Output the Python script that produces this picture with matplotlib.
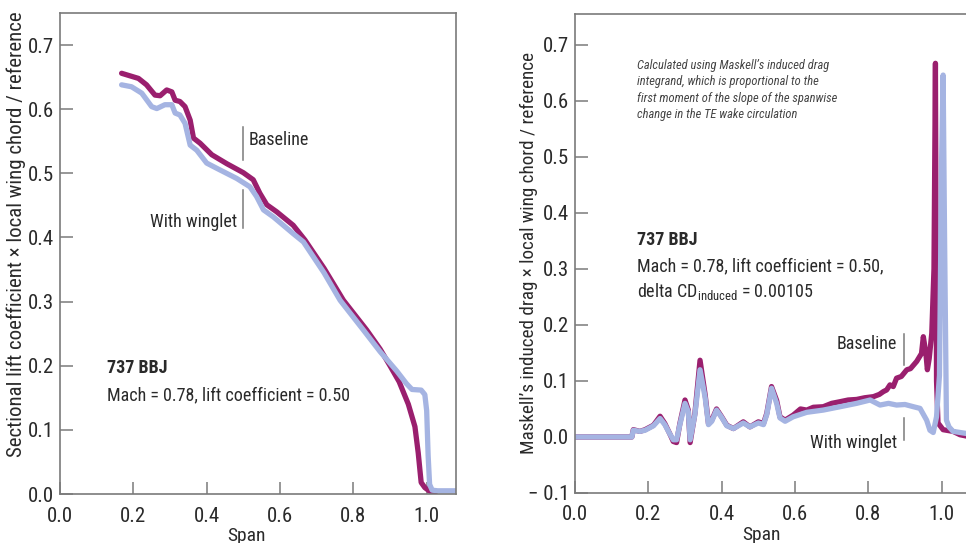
import sys
import matplotlib
matplotlib.use("Agg")
import matplotlib.pyplot as plt
import matplotlib.font_manager as fm

# pick a condensed face if one is installed, else the narrowest plain one
entries = fm.fontManager.ttflist
names = {f.name for f in entries}
FONT, STRETCH = 'DejaVu Sans', 'normal'
for cand in ['Liberation Sans Narrow', 'Roboto Condensed', 'Open Sans Condensed',
             'Noto Sans Condensed', 'DejaVu Sans Condensed']:
    if cand in names:
        FONT = cand
        break
else:
    cond = [f for f in entries if f.stretch in ('condensed', 'semi-condensed', 'extra-condensed')
            or 'ondensed' in f.fname or 'arrow' in f.fname]
    if cond:
        FONT = cond[0].name
        STRETCH = 'condensed'
    elif 'Roboto' in names:
        FONT = 'Roboto'
print("font:", FONT, STRETCH, file=sys.stderr)
plt.rcParams['font.family'] = [FONT, 'DejaVu Sans']
plt.rcParams['font.stretch'] = STRETCH

# ---- left panel: sectional lift ----
lift_base_x = [0.168, 0.214, 0.236, 0.259, 0.273, 0.291, 0.305, 0.314, 0.327, 0.341,
               0.355, 0.364, 0.382, 0.414, 0.455, 0.500, 0.527, 0.545, 0.564, 0.591,
               0.636, 0.668, 0.720, 0.773, 0.836, 0.873, 0.900, 0.925, 0.950, 0.968,
               0.977, 0.982, 0.985, 0.995, 1.009, 1.023]
lift_base_y = [0.656, 0.648, 0.638, 0.622, 0.621, 0.630, 0.627, 0.614, 0.612, 0.604,
               0.583, 0.555, 0.547, 0.529, 0.515, 0.501, 0.490, 0.469, 0.451, 0.440,
               0.419, 0.396, 0.352, 0.302, 0.256, 0.226, 0.200, 0.175, 0.140, 0.105,
               0.064, 0.035, 0.018, 0.010, 0.004, 0.000]

lift_wing_x = [0.168, 0.195, 0.223, 0.250, 0.264, 0.286, 0.305, 0.314, 0.327, 0.341,
               0.355, 0.373, 0.400, 0.427, 0.482, 0.518, 0.536, 0.555, 0.582, 0.636,
               0.664, 0.720, 0.764, 0.827, 0.873, 0.918, 0.945, 0.960, 0.985, 0.995,
               1.000, 1.004, 1.008, 1.015, 1.030, 1.080]
lift_wing_y = [0.638, 0.635, 0.625, 0.604, 0.601, 0.607, 0.607, 0.594, 0.591, 0.578,
               0.544, 0.536, 0.516, 0.508, 0.492, 0.479, 0.464, 0.443, 0.432, 0.406,
               0.393, 0.345, 0.302, 0.256, 0.222, 0.192, 0.172, 0.163, 0.162, 0.155,
               0.130, 0.060, 0.015, 0.006, 0.005, 0.005]

# ---- right panel: Maskell induced drag ----
drag_base_x = [0.0, 0.155, 0.159, 0.177, 0.191, 0.214, 0.232, 0.245, 0.259, 0.268,
               0.277, 0.286, 0.300, 0.309, 0.314, 0.327, 0.341, 0.355, 0.364, 0.373,
               0.386, 0.400, 0.414, 0.432, 0.459, 0.477, 0.500, 0.514, 0.523, 0.536,
               0.550, 0.559, 0.573, 0.595, 0.615, 0.632, 0.650, 0.677, 0.700, 0.723,
               0.745, 0.768, 0.790, 0.814, 0.830, 0.841, 0.850, 0.859, 0.868, 0.877,
               0.890, 0.905, 0.915, 0.932, 0.945, 0.950, 0.957, 0.961, 0.966, 0.973,
               0.979, 0.983, 0.986, 0.990, 1.004, 1.031, 1.050, 1.080]
drag_base_y = [0.0, 0.0, 0.013, 0.010, 0.013, 0.021, 0.037, 0.024, 0.005, -0.008,
               -0.010, 0.024, 0.066, 0.048, -0.010, 0.042, 0.137, 0.075, 0.024, 0.030,
               0.050, 0.036, 0.021, 0.015, 0.027, 0.018, 0.027, 0.024, 0.042, 0.090,
               0.065, 0.036, 0.030, 0.039, 0.050, 0.048, 0.053, 0.054, 0.060, 0.063,
               0.066, 0.067, 0.070, 0.072, 0.076, 0.081, 0.084, 0.093, 0.090, 0.105,
               0.108, 0.120, 0.122, 0.135, 0.149, 0.179, 0.149, 0.120, 0.140, 0.185,
               0.300, 0.667, 0.100, 0.025, 0.013, 0.010, 0.004, 0.000]

drag_wing_x = [0.0, 0.155, 0.159, 0.177, 0.191, 0.214, 0.232, 0.245, 0.259, 0.268,
               0.277, 0.286, 0.300, 0.309, 0.314, 0.327, 0.341, 0.355, 0.364, 0.373,
               0.386, 0.400, 0.414, 0.432, 0.459, 0.477, 0.500, 0.514, 0.523, 0.536,
               0.550, 0.559, 0.573, 0.595, 0.632, 0.677, 0.723, 0.768, 0.805, 0.832,
               0.855, 0.877, 0.900, 0.923, 0.941, 0.959, 0.968, 0.977, 0.986, 0.994,
               1.000, 1.004, 1.008, 1.013, 1.020, 1.031, 1.060, 1.080]
drag_wing_y = [0.0, 0.0, 0.012, 0.010, 0.012, 0.020, 0.033, 0.022, 0.005, -0.005,
               -0.005, 0.022, 0.060, 0.045, -0.005, 0.040, 0.120, 0.070, 0.022, 0.028,
               0.048, 0.035, 0.020, 0.015, 0.025, 0.018, 0.025, 0.022, 0.040, 0.087,
               0.060, 0.034, 0.028, 0.036, 0.044, 0.048, 0.054, 0.060, 0.066, 0.057,
               0.060, 0.057, 0.058, 0.054, 0.051, 0.030, 0.012, 0.008, 0.036, 0.110,
               0.500, 0.646, 0.350, 0.030, 0.018, 0.010, 0.007, 0.005]

x_ticks = [0.0, 0.2, 0.4, 0.6, 0.8, 1.0]
x_ticklabels = ['0.0', '0.2', '0.4', '0.6', '0.8', '1.0']
lift_yticks = [0.0, 0.1, 0.2, 0.3, 0.4, 0.5, 0.6, 0.7]
lift_yticklabels = ['0.0', '0.1', '0.2', '0.3', '0.4', '0.5', '0.6', '0.7']
drag_yticks = [-0.1, 0.0, 0.1, 0.2, 0.3, 0.4, 0.5, 0.6, 0.7]
drag_yticklabels = ['\u2212 0.1', '0.0', '0.1', '0.2', '0.3', '0.4', '0.5', '0.6', '0.7']

PURPLE = '#9a1f6e'
BLUE = '#a5b4e2'
GRAY = '#7a7a7a'
TXT = '#2a2a2a'

narrow = FONT != 'DejaVu Sans' or STRETCH == 'condensed'
TICK_FS = 15 if narrow else 12.5
LAB_FS = 14 if narrow else 11
ANN_FS = 13 if narrow else 10.5
NOTE_FS = 9 if narrow else 7.3
YLAB1_FS = 15 if narrow else 11.8
YLAB2_FS = 13.8 if narrow else 10.9

W, H = 966, 543
fig = plt.figure(figsize=(W / 100, H / 100), dpi=100)

def px_axes(left, top, right, bottom):
    return fig.add_axes([left / W, 1 - bottom / H, (right - left) / W, (bottom - top) / H])

ax1 = px_axes(60, 13, 456, 494)
ax2 = px_axes(575, 14, 971, 493)

def style(ax, yticks, yticklabels):
    for s in ax.spines.values():
        s.set_color(GRAY)
        s.set_linewidth(1.2)
    ax.set_xticks(x_ticks)
    ax.set_xticklabels(x_ticklabels)
    ax.set_yticks(yticks)
    ax.set_yticklabels(yticklabels)
    ax.tick_params(direction='in', length=9, width=1.1, color=GRAY,
                   labelsize=TICK_FS, labelcolor=TXT)
    ax.tick_params(axis='x', pad=9)
    ax.tick_params(axis='y', pad=4)
    ax.set_xlabel('Span', fontsize=LAB_FS, color=TXT)
    ax.xaxis.set_label_coords(0.47, -0.068)

line_kw = dict(lw=3.8, solid_capstyle='round', solid_joinstyle='round')

# left
ax1.plot(lift_base_x, lift_base_y, color=PURPLE, **line_kw)
ax1.plot(lift_wing_x, lift_wing_y, color=BLUE, **line_kw)
ax1.set_xlim(0, 1.08)
ax1.set_ylim(0, 0.75)
style(ax1, lift_yticks, lift_yticklabels)
ax1.set_ylabel('Sectional lift coefficient \u00d7 local wing chord / reference',
               fontsize=YLAB1_FS, color=TXT)
ax1.yaxis.set_label_coords(-0.086, 0.54)

ax1.plot([0.499, 0.499], [0.521, 0.572], color=GRAY, lw=1.1)
ax1.text(0.515, 0.552, 'Baseline', fontsize=ANN_FS, color=TXT, va='center', ha='left')
ax1.plot([0.499, 0.499], [0.415, 0.474], color=GRAY, lw=1.1)
ax1.text(0.483, 0.424, 'With winglet', fontsize=ANN_FS, color=TXT, va='center', ha='right')
ax1.text(0.128, 0.197, '737 BBJ', fontsize=ANN_FS, fontweight='bold', color=TXT, va='center')
ax1.text(0.128, 0.154, 'Mach = 0.78, lift coefficient = 0.50', fontsize=ANN_FS,
         color=TXT, va='center')

# right
ax2.plot(drag_base_x, drag_base_y, color=PURPLE, **line_kw)
ax2.plot(drag_wing_x, drag_wing_y, color=BLUE, **line_kw)
ax2.set_xlim(0, 1.08)
ax2.set_ylim(-0.1, 0.755)
style(ax2, drag_yticks, drag_yticklabels)
ax2.set_ylabel('Maskell\u2019s induced drag \u00d7 local wing chord / reference',
               fontsize=YLAB2_FS, color=TXT)
ax2.yaxis.set_label_coords(-0.094, 0.5)

ax2.text(0.169, 0.675,
         'Calculated using Maskell\u2019s induced drag\n'
         'integrand, which is proportional to the\n'
         'first moment of the slope of the spanwise\n'
         'change in the TE wake circulation',
         fontsize=NOTE_FS, style='italic', color='#444444', va='top', ha='left',
         linespacing=1.35)
ax2.text(0.169, 0.352, '737 BBJ', fontsize=ANN_FS, fontweight='bold', color=TXT, va='center')
ax2.text(0.169, 0.305, 'Mach = 0.78, lift coefficient = 0.50,', fontsize=ANN_FS,
         color=TXT, va='center')
ax2.text(0.169, 0.260, 'delta CD$_{\\mathregular{induced}}$ = 0.00105', fontsize=ANN_FS,
         color=TXT, va='center')

ax2.plot([0.897, 0.897], [0.129, 0.184], color=GRAY, lw=1.1)
ax2.text(0.878, 0.166, 'Baseline', fontsize=ANN_FS, color=TXT, va='center', ha='right')
ax2.plot([0.897, 0.897], [-0.005, 0.034], color=GRAY, lw=1.1)
ax2.text(0.878, -0.011, 'With winglet', fontsize=ANN_FS, color=TXT, va='center', ha='right')

fig.savefig('out.png', dpi=100)
